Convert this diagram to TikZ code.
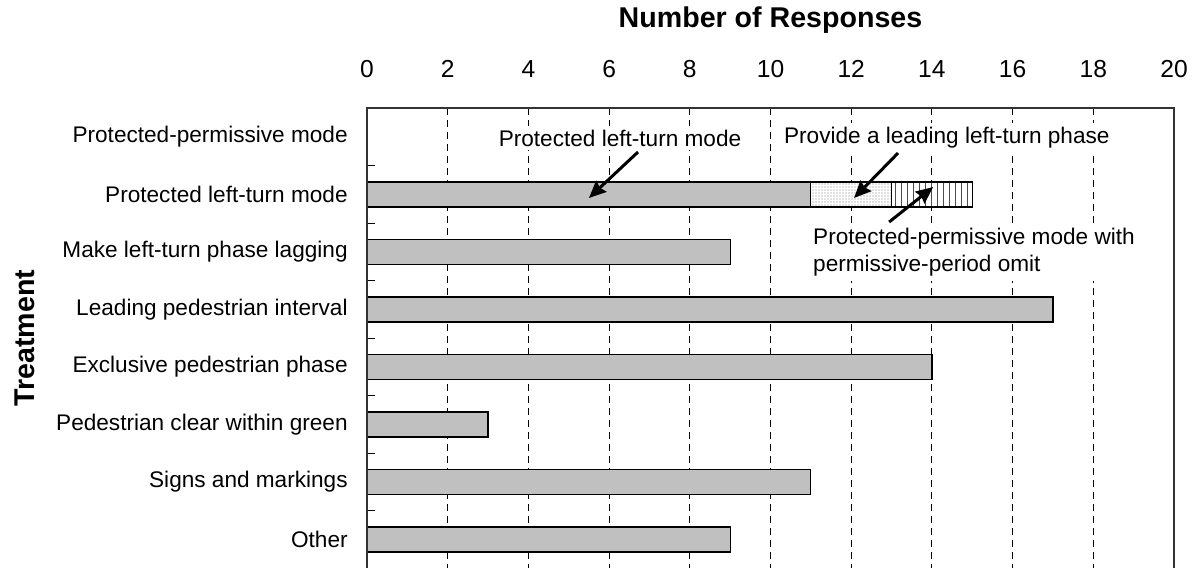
\documentclass[tikz,border=0pt]{standalone}
\usepackage{fontspec}
\setmainfont{Liberation Sans}
\usepackage{tikz}
\usetikzlibrary{arrows.meta}
\usetikzlibrary{patterns}
\definecolor{barfill}{HTML}{C0C0C0}
\pgfdeclarepatternformonly{finedots}{\pgfqpoint{-0.5pt}{-0.5pt}}{\pgfqpoint{1.5pt}{1.5pt}}{\pgfqpoint{1.5pt}{1.5pt}}{%
    \pgfpathcircle{\pgfqpoint{0pt}{0pt}}{0.35pt}\pgfusepath{fill}}
\tikzset{
    lbl/.style = {inner sep=0pt, font=\fontsize{11.3}{13.5}\selectfont},
    catlbl/.style = {lbl, anchor=east},
    notelbl/.style = {lbl, fill=white, inner sep=2pt},
    ticklbl/.style = {inner sep=0pt, font=\fontsize{12.3}{14}\selectfont},
    axtitle/.style = {inner sep=0pt, font=\bfseries\fontsize{14.3}{16}\selectfont},
    bar/.style = {draw=black, fill=barfill, line width=0.6pt},
    dotbar/.style = {draw=black, line width=0.6pt, preaction={fill=white}, pattern=finedots, pattern color=gray},
    linebar/.style = {draw=black, line width=0.6pt, preaction={fill=white}, pattern=vertical lines, pattern color=gray!60!black},
    grid_line/.style = {black, line width=0.5pt, dash pattern=on 3.5pt off 2.5pt},
    note_arrow/.style = {-{Stealth[length=8.5pt, width=7.5pt, inset=1pt]}, line width=1.5pt}
}

\begin{document}
\begin{tikzpicture}[x=0.5pt, y=-0.5pt]
    \useasboundingbox (0,0) rectangle (1197,568);
    \begin{scope}[shift={(367,108)}, x=20.175pt, y=-28.75pt]
        % grid lines and ticks
        \foreach \v in {2,4,...,18} {
            \draw[grid_line] (\v,0) -- (\v,8);
            \draw[line width=0.5pt] (\v,0) -- (\v,0.12);
        }
        \foreach \k in {1,...,7}
            \draw[line width=0.5pt] (0,\k) -- (0.2,\k);
        % bars
        \draw[bar] (0,1.287) rectangle (11,1.722);
        \draw[dotbar] (11,1.287) rectangle (13,1.722);
        \draw[linebar] (13,1.287) rectangle (15,1.722);
        \foreach \row/\val in {2/9,3/17,4/14,5/3,6/11,7/9}
            \draw[bar] (0,\row+0.287) rectangle (\val,\row+0.722);
        % frame
        \draw[line width=0.6pt, gray!40!black] (0,8) -- (0,0) -- (20,0) -- (20,8);
        % axis labels
        \foreach \v in {0,2,...,20}
            \node[ticklbl] (tick\v) at (\v,-0.678) {\v};
        \foreach \txt [count=\i from 0] in {Protected-permissive mode, Protected left-turn mode,
                Make left-turn phase lagging, Leading pedestrian interval, Exclusive pedestrian phase,
                Pedestrian clear within green, Signs and markings, Other}
            \node[catlbl] (cat\i) at (-0.47,\i+0.5) {\txt};
        \node[axtitle] (xtitle) at (10,-1.53) {Number of Responses};
        \node[axtitle, rotate=90] (ytitle) at (-8.476,4) {Treatment};
        % notes
        \node[notelbl] (plt) at (6.27,0.522) {Protected left-turn mode};
        \node[notelbl] (lead) at (14.37,0.522) {Provide a leading left-turn phase};
        \node[notelbl, anchor=west, align=left] (ppm) at (10.95,2.513) {Protected-permissive mode with\\permissive-period omit};
        \coordinate (plt_s) at (6.716,0.765);
        \coordinate (plt_e) at (5.50,1.565);
        \coordinate (lead_s) at (13.16,0.783);
        \coordinate (lead_e) at (12.07,1.565);
        \coordinate (ppm_s) at (12.94,1.983);
        \coordinate (ppm_e) at (14.03,1.374);
        \draw[note_arrow] (plt_s) -- (plt_e);
        \draw[note_arrow] (lead_s) -- (lead_e);
        \draw[note_arrow] (ppm_s) -- (ppm_e);
    \end{scope}
\end{tikzpicture}
\end{document}
